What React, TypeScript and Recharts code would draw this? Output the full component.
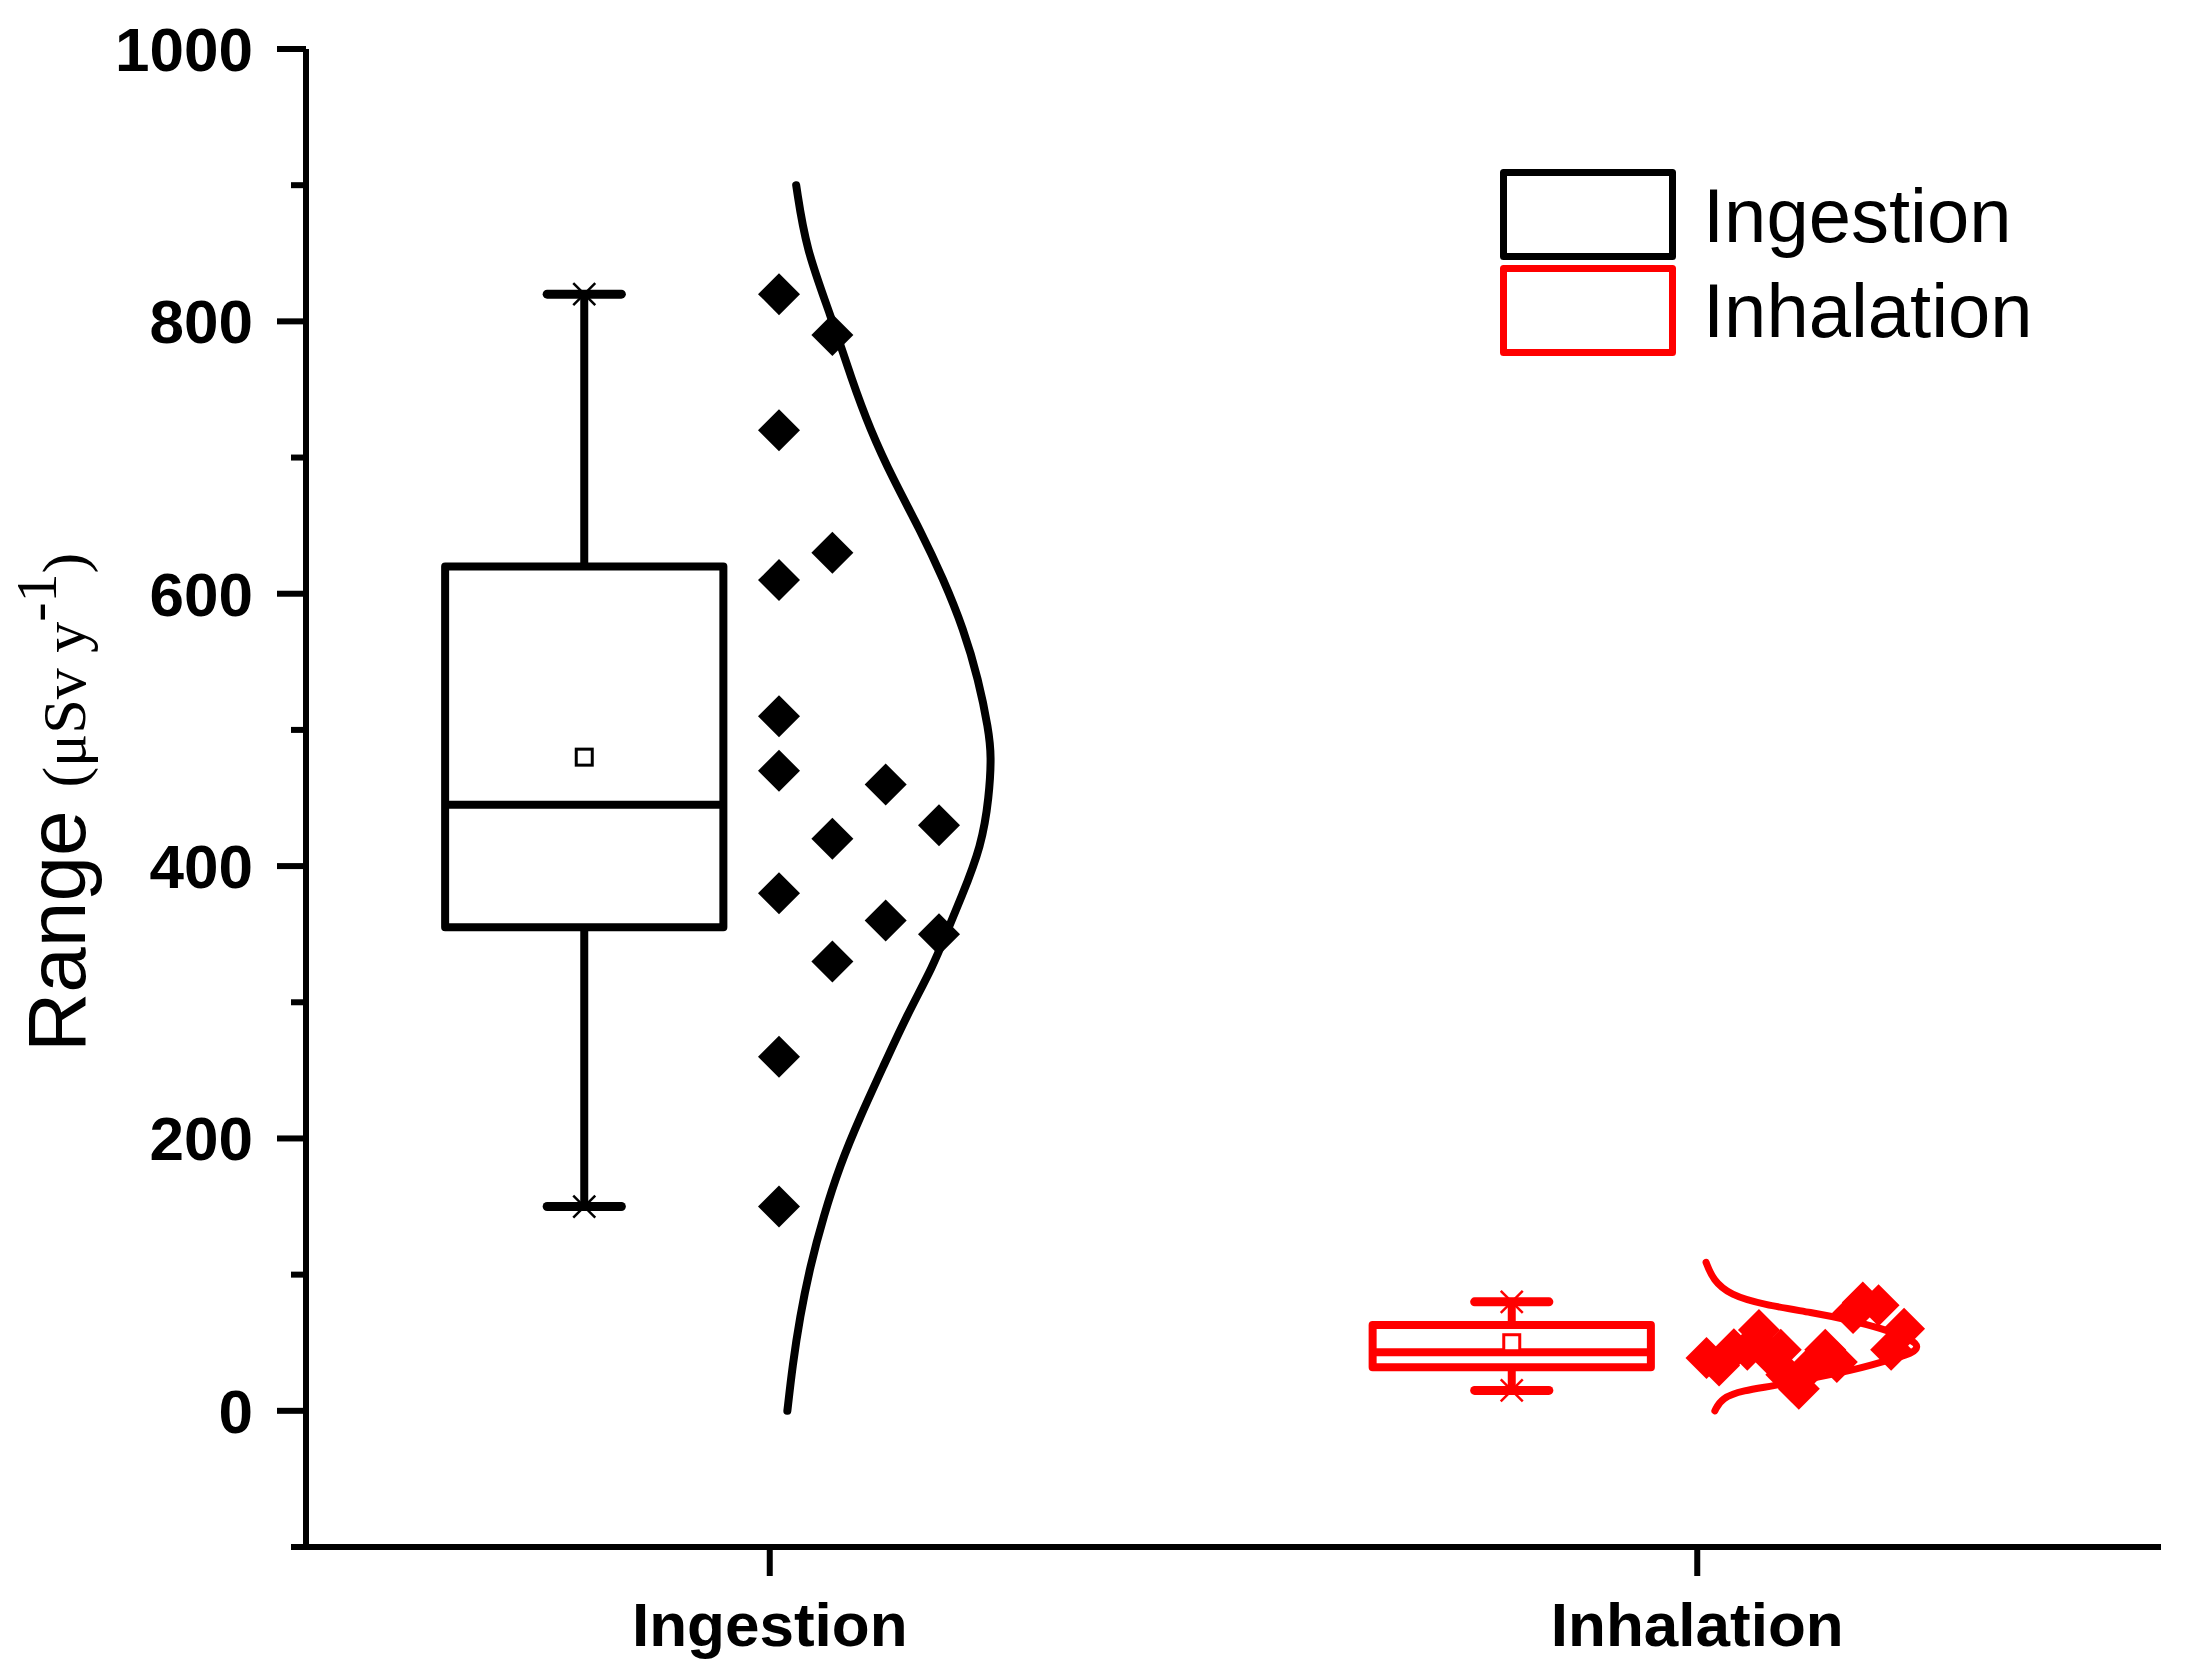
import React from "react";
import {
  ComposedChart,
  XAxis,
  YAxis,
  Line,
  Scatter,
  ReferenceArea,
  ReferenceLine,
  ReferenceDot,
  Legend,
} from "recharts";

// category axis: two groups at x = 1 and x = 3
const categories = ["Ingestion", "Inhalation"];
const categoryTicks = [1, 3];
const yTicks = [-100, 0, 100, 200, 300, 400, 500, 600, 700, 800, 900, 1000];
const colors = ["#000000", "#ff0000"];

// box statistics (µSv/y) per group
const boxCenter = [0.6, 2.6];
const boxMin = [150, 15];
const boxQ1 = [355, 32];
const boxMedian = [445, 43];
const boxQ3 = [620, 63];
const boxMax = [820, 80];
const boxMean = [480, 50];

// raw points (column offset, value)
const ingestionX = [1.02, 1.02, 1.02, 1.02, 1.02, 1.02, 1.02, 1.02, 1.135, 1.135, 1.135, 1.135, 1.25, 1.25, 1.365, 1.365];
const ingestionY = [820, 720, 610, 510, 470, 380, 260, 150, 790, 630, 420, 330, 460, 360, 430, 350];
const inhalationX = [3.02, 3.047, 3.079, 3.108, 3.133, 3.159, 3.18, 3.192, 3.219, 3.244, 3.276, 3.301, 3.336, 3.357, 3.391, 3.418, 3.446];
const inhalationY = [38.7, 33.3, 45.3, 44.8, 59.3, 39.7, 44.8, 26.4, 16.2, 32.6, 44.8, 35.8, 71.8, 79.6, 77.6, 44.8, 60.2];

// distribution curves (value, horizontal position)
const ingestionCurveY = [900, 853, 805, 757, 721, 684, 647, 611, 574, 537, 500, 481, 451, 415, 376, 351, 327, 290, 253, 216, 180, 143, 106, 69, 33, 0];
const ingestionCurveX = [1.057, 1.078, 1.131, 1.177, 1.216, 1.266, 1.324, 1.374, 1.418, 1.45, 1.472, 1.478, 1.473, 1.457, 1.412, 1.381, 1.353, 1.295, 1.245, 1.195, 1.151, 1.116, 1.087, 1.065, 1.049, 1.038];
const inhalationCurveY = [109, 96, 85, 78, 72, 67, 61, 52, 47, 42, 39, 33, 30, 24, 18, 15, 9.5, 0];
const inhalationCurveX = [3.019, 3.034, 3.071, 3.142, 3.25, 3.323, 3.394, 3.465, 3.478, 3.462, 3.431, 3.37, 3.336, 3.25, 3.16, 3.1, 3.052, 3.038];

const BOX_HALF = 0.3;
const CAP_HALF = 0.08;

const toPts = (xs: number[], ys: number[]) => xs.map((x, i) => ({ x, v: ys[i] }));
const ingestionPts = toPts(ingestionX, ingestionY);
const inhalationPts = toPts(inhalationX, inhalationY);
const ingestionCurve = toPts(ingestionCurveX, ingestionCurveY);
const inhalationCurve = toPts(inhalationCurveX, inhalationCurveY);

const SANS = "'Liberation Sans', Arial, Helvetica, sans-serif";
const SERIF = "'Liberation Serif', 'Times New Roman', serif";

const diamond = (color: string, h: number) => (p: any) => (
  <path
    d={`M${p.cx},${p.cy - h} L${p.cx + h},${p.cy} L${p.cx},${p.cy + h} L${p.cx - h},${p.cy} Z`}
    fill={color}
  />
);

const cross = (color: string) => (p: any) => (
  <g stroke={color} strokeWidth={2.5}>
    <line x1={p.cx - 11} y1={p.cy - 11} x2={p.cx + 11} y2={p.cy + 11} />
    <line x1={p.cx - 11} y1={p.cy + 11} x2={p.cx + 11} y2={p.cy - 11} />
  </g>
);

const meanSquare = (color: string) => (p: any) => (
  <rect x={p.cx - 8} y={p.cy - 8} width={16} height={16} fill="#fff" stroke={color} strokeWidth={3} />
);

const YTick = (props: any) => {
  const { y, payload } = props;
  const v = payload.value;
  const major = v % 200 === 0;
  return (
    <g>
      <line x1={major ? 277 : 291} x2={306} y1={y} y2={y} stroke="#000" strokeWidth={6} />
      {major && (
        <text x={253} y={y} dy={22} textAnchor="end" fontSize={62} fontWeight="bold" fontFamily={SANS} fill="#000">
          {v}
        </text>
      )}
    </g>
  );
};

const XTick = (props: any) => {
  const { x, payload } = props;
  const label = categories[categoryTicks.indexOf(payload.value)];
  return (
    <g>
      <line x1={x} x2={x} y1={1547} y2={1576} stroke="#000" strokeWidth={6} />
      <text x={x} y={1646} textAnchor="middle" fontSize={62} fontWeight="bold" fontFamily={SANS} fill="#000">
        {label}
      </text>
    </g>
  );
};

const YLabel = () => (
  <text x={85} y={1052} transform="rotate(-90, 85, 1052)" fill="#000">
    <tspan fontFamily={SANS} fontSize={82}>Range </tspan>
    <tspan fontFamily={SERIF} fontSize={62}>(μSv y</tspan>
    <tspan fontFamily={SERIF} fontSize={58} dy={-29}>-1</tspan>
    <tspan fontFamily={SERIF} fontSize={62} dy={29}>)</tspan>
  </text>
);

const LegendBox = () => (
  <svg width={620} height={200}>
    {categories.map((c, i) => (
      <g key={c}>
        <rect
          x={7.5}
          y={7.5 + i * 96}
          width={169}
          height={84}
          fill="none"
          stroke={colors[i]}
          strokeWidth={7}
          strokeLinejoin="round"
        />
        <text x={207} y={77 + i * 95} fontSize={76} fontFamily={SANS} fill="#000">
          {c}
        </text>
      </g>
    ))}
  </svg>
);

export default function App() {
  return (
    <div style={{ position: "absolute", left: 0, top: 0, width: 2186, height: 1673, background: "#fff" }}>
      <ComposedChart
        width={2186}
        height={1673}
        margin={{ top: 49, right: 25, bottom: 0, left: 0 }}
        style={{ fontFamily: SANS }}
      >
        <XAxis
          type="number"
          dataKey="x"
          domain={[0, 4]}
          ticks={categoryTicks}
          interval={0}
          allowDataOverflow
          height={126}
          tickLine={false}
          tickSize={28}
          axisLine={{ stroke: "#000", strokeWidth: 6 }}
          tick={<XTick />}
        />
        <YAxis
          type="number"
          dataKey="v"
          domain={[-100, 1000]}
          ticks={yTicks}
          interval={0}
          allowDataOverflow
          width={306}
          tickLine={false}
          tickSize={28}
          tickMargin={24}
          axisLine={{ stroke: "#000", strokeWidth: 6 }}
          tick={<YTick />}
          label={<YLabel />}
        />
        <Legend
          layout="vertical"
          align="center"
          verticalAlign="middle"
          content={<LegendBox />}
          wrapperStyle={{ position: "absolute", left: 1496, top: 165, width: 620, height: 200 }}
        />

        {boxCenter.map((cx, i) => (
          <ReferenceLine
            key={`wu${i}`}
            segment={[{ x: cx, y: boxQ3[i] }, { x: cx, y: boxMax[i] }]}
            stroke={colors[i]}
            strokeWidth={8}
          />
        ))}
        {boxCenter.map((cx, i) => (
          <ReferenceLine
            key={`wd${i}`}
            segment={[{ x: cx, y: boxMin[i] }, { x: cx, y: boxQ1[i] }]}
            stroke={colors[i]}
            strokeWidth={8}
          />
        ))}
        {boxCenter.map((cx, i) => (
          <ReferenceArea
            key={`box${i}`}
            x1={cx - BOX_HALF}
            x2={cx + BOX_HALF}
            y1={boxQ1[i]}
            y2={boxQ3[i]}
            fill="#fff"
            fillOpacity={1}
            stroke={colors[i]}
            strokeWidth={8}
            strokeLinejoin="round"
          />
        ))}
        {boxCenter.map((cx, i) => (
          <ReferenceLine
            key={`med${i}`}
            segment={[{ x: cx - BOX_HALF, y: boxMedian[i] }, { x: cx + BOX_HALF, y: boxMedian[i] }]}
            stroke={colors[i]}
            strokeWidth={8}
          />
        ))}
        {boxCenter.map((cx, i) => (
          <ReferenceLine
            key={`capt${i}`}
            segment={[{ x: cx - CAP_HALF, y: boxMax[i] }, { x: cx + CAP_HALF, y: boxMax[i] }]}
            stroke={colors[i]}
            strokeWidth={9}
            strokeLinecap="round"
          />
        ))}
        {boxCenter.map((cx, i) => (
          <ReferenceLine
            key={`capb${i}`}
            segment={[{ x: cx - CAP_HALF, y: boxMin[i] }, { x: cx + CAP_HALF, y: boxMin[i] }]}
            stroke={colors[i]}
            strokeWidth={9}
            strokeLinecap="round"
          />
        ))}
        {boxCenter.map((cx, i) => (
          <ReferenceDot key={`xt${i}`} x={cx} y={boxMax[i]} r={11} shape={cross(colors[i])} />
        ))}
        {boxCenter.map((cx, i) => (
          <ReferenceDot key={`xb${i}`} x={cx} y={boxMin[i]} r={11} shape={cross(colors[i])} />
        ))}
        {boxCenter.map((cx, i) => (
          <ReferenceDot key={`mean${i}`} x={cx} y={boxMean[i]} r={8} shape={meanSquare(colors[i])} />
        ))}

        <Line
          data={ingestionCurve}
          dataKey="v"
          type="basis"
          stroke={colors[0]}
          strokeWidth={8}
          strokeLinecap="round"
          dot={false}
          activeDot={false}
          isAnimationActive={false}
        />
        <Line
          data={inhalationCurve}
          dataKey="v"
          type="basis"
          stroke={colors[1]}
          strokeWidth={7}
          strokeLinecap="round"
          dot={false}
          activeDot={false}
          isAnimationActive={false}
        />
        <Scatter data={ingestionPts} dataKey="v" shape={diamond(colors[0], 21)} isAnimationActive={false} />
        <Scatter data={inhalationPts} dataKey="v" shape={diamond(colors[1], 21)} isAnimationActive={false} />
      </ComposedChart>
    </div>
  );
}
